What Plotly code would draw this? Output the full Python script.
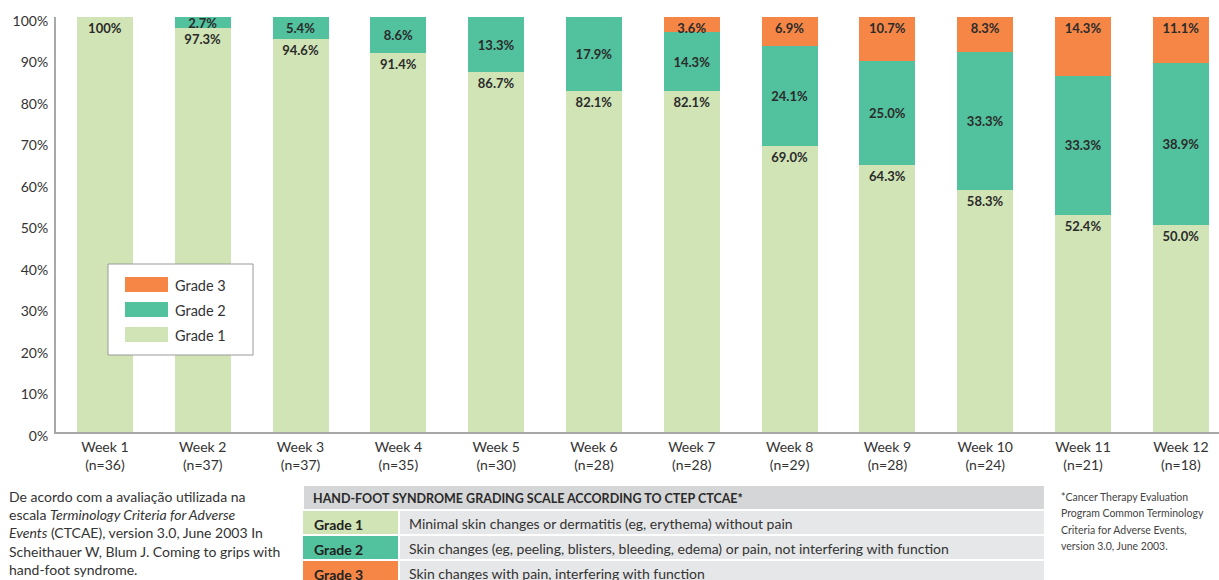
import plotly.graph_objects as go

# ---- data -------------------------------------------------------------
weeks = [f"Week {i}" for i in range(1, 13)]
n_patients = [36, 37, 37, 35, 30, 28, 28, 29, 28, 24, 21, 18]
grade1 = [100, 97.3, 94.6, 91.4, 86.7, 82.1, 82.1, 69.0, 64.3, 58.3, 52.4, 50.0]
grade2 = [0, 2.7, 5.4, 8.6, 13.3, 17.9, 14.3, 24.1, 25.0, 33.3, 33.3, 38.9]
grade3 = [0, 0, 0, 0, 0, 0, 3.6, 6.9, 10.7, 8.3, 14.3, 11.1]

grade_names = ["Grade 1", "Grade 2", "Grade 3"]
grade_descriptions = [
    "Minimal skin changes or dermatitis (eg, erythema) without pain",
    "Skin changes (eg, peeling, blisters, bleeding, edema) or pain, not interfering with function",
    "Skin changes with pain, interfering with function",
]
table_title = "HAND-FOOT SYNDROME GRADING SCALE ACCORDING TO CTEP CTCAE*"
source_note = (
    "De acordo com a avaliação utilizada na<br>"
    "escala <i>Terminology Criteria for Adverse</i><br>"
    "<i>Events</i> (CTCAE), version 3.0, June 2003 In<br>"
    "Scheithauer W, Blum J. Coming to grips with<br>"
    "hand-foot syndrome."
)
footnote_lines = [
    "*Cancer Therapy Evaluation",
    "Program Common Terminology",
    "Criteria for Adverse Events,",
    "version 3.0, June 2003.",
]

# ---- style ------------------------------------------------------------
COLORS = ["#d1e4b5", "#52c19d", "#f58646"]
FONT = "Lato"
TEXT_DARK = "#2b2b2b"
AXIS_GREY = "#a8a8a8"

W, H = 1219, 580
L, R, T, B = 56, 0, 17, 148


def fx(px):
    """pixel x -> paper x"""
    return (px - L) / (W - L - R)


def fy(py):
    """pixel y -> paper y"""
    return (H - B - py) / (H - T - B)


def pct_label(v):
    if v == 0:
        return ""
    return "100%" if v == 100 else f"{v:.1f}%"


x_labels = [f"{w}<br>(n={n})" for w, n in zip(weeks, n_patients)]

fig = go.Figure()
anchors = ["end", "middle", "end"]
for name, vals, color, anchor in zip(grade_names, [grade1, grade2, grade3], COLORS, anchors):
    fig.add_trace(go.Bar(
        x=x_labels, y=vals, name=name,
        marker=dict(color=color, line=dict(width=0)),
        text=[pct_label(v) for v in vals],
        textposition="inside", insidetextanchor=anchor,
        textfont=dict(family=FONT, size=13, color=TEXT_DARK, weight="bold"),
        textangle=0,
        showlegend=False,
        hoverinfo="skip",
    ))

shapes = []
annotations = []

# ---- legend box ---------------------------------------------------------
shapes.append(dict(type="rect", xref="paper", yref="paper",
                   x0=fx(108), x1=fx(253), y0=fy(355), y1=fy(264),
                   line=dict(color="#9a9a9a", width=1), fillcolor="white"))
for i, (name, color) in enumerate(zip(grade_names[::-1], COLORS[::-1])):
    top = 277 + 25 * i
    shapes.append(dict(type="rect", xref="paper", yref="paper",
                       x0=fx(125), x1=fx(168), y0=fy(top + 15), y1=fy(top),
                       line=dict(width=0), fillcolor=color))
    annotations.append(dict(xref="paper", yref="paper", x=fx(173), y=fy(top + 8),
                            xanchor="left", yanchor="middle", showarrow=False,
                            text=name, font=dict(family=FONT, size=14.5, color="#333")))

# ---- grading scale table ------------------------------------------------
shapes.append(dict(type="rect", xref="paper", yref="paper",
                   x0=fx(304), x1=fx(1044), y0=fy(509), y1=fy(486),
                   line=dict(width=0), fillcolor="#d5d6d7"))
annotations.append(dict(xref="paper", yref="paper", x=fx(311), y=fy(499),
                        xanchor="left", yanchor="middle", showarrow=False,
                        text=f"<b>{table_title}</b>",
                        font=dict(family=FONT, size=12.5, color="#2a2a2a")))
row_tops = [511, 536, 561]
for top, name, desc, color in zip(row_tops, grade_names, grade_descriptions, COLORS):
    bottom = top + 23
    shapes.append(dict(type="rect", xref="paper", yref="paper",
                       x0=fx(303), x1=fx(398), y0=fy(bottom), y1=fy(top),
                       line=dict(width=0), fillcolor=color))
    shapes.append(dict(type="rect", xref="paper", yref="paper",
                       x0=fx(400), x1=fx(1044), y0=fy(bottom), y1=fy(top),
                       line=dict(width=0), fillcolor="#e6e7e8"))
    annotations.append(dict(xref="paper", yref="paper", x=fx(312), y=fy(top + 13),
                            xanchor="left", yanchor="middle", showarrow=False,
                            text=f"<b>{name}</b>",
                            font=dict(family=FONT, size=14, color="#222")))
    annotations.append(dict(xref="paper", yref="paper", x=fx(407), y=fy(top + 12),
                            xanchor="left", yanchor="middle", showarrow=False,
                            text=desc, font=dict(family=FONT, size=14, color="#333")))

# ---- notes ---------------------------------------------------------------
annotations.append(dict(xref="paper", yref="paper", x=fx(7), y=fy(486),
                        xanchor="left", yanchor="top", align="left", showarrow=False,
                        text=source_note, font=dict(family=FONT, size=14, color="#333")))
for i, line in enumerate(footnote_lines):
    annotations.append(dict(xref="paper", yref="paper", x=fx(1059), y=fy(497 + 16.3 * i),
                            xanchor="left", yanchor="middle", showarrow=False,
                            text=line, font=dict(family=FONT, size=10.5, color="#444")))

fig.update_layout(
    width=W, height=H,
    margin=dict(l=L, r=R, t=T, b=B, pad=0),
    barmode="stack", bargap=0.427,
    plot_bgcolor="white", paper_bgcolor="white",
    font=dict(family=FONT, color="#333"),
    uniformtext=dict(minsize=13, mode="show"),
    shapes=shapes, annotations=annotations,
    xaxis=dict(range=[-0.5, 11.39], showgrid=False, zeroline=False,
               showline=True, linecolor=AXIS_GREY, linewidth=2,
               ticks="outside", ticklen=1, tickcolor="rgba(0,0,0,0)",
               tickfont=dict(family=FONT, size=14, color="#333"),
               fixedrange=True),
    yaxis=dict(range=[0, 100], dtick=10, ticksuffix="%", showgrid=False,
               zeroline=False, showline=True, linecolor=AXIS_GREY, linewidth=2,
               ticks="outside", ticklen=3, tickcolor="rgba(0,0,0,0)",
               ticklabelshift=4,
               tickfont=dict(family=FONT, size=14, color="#333"),
               fixedrange=True),
)

fig.write_html("out.html")
